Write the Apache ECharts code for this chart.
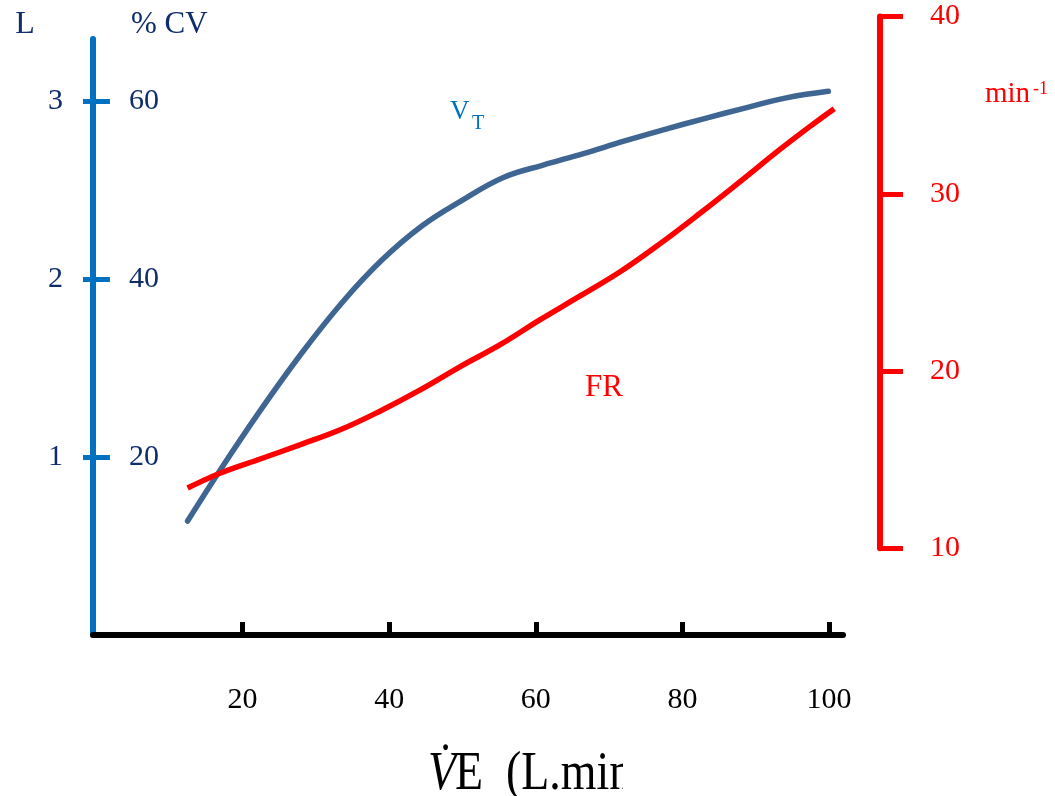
<!DOCTYPE html>
<html>
<head>
<meta charset="utf-8">
<script src="https://cdn.jsdelivr.net/npm/echarts@6/dist/echarts.min.js"></script>
<style>
  html, body { margin: 0; padding: 0; background: #ffffff; }
  #chart { width: 1055px; height: 796px; }
</style>
</head>
<body>
<div id="chart"></div>
<script>
// ---- data ----
const xTicks = [20, 40, 60, 80, 100];            // V̇E (L.min-1)
const litreTicks = [1, 2, 3];                     // L
const cvTicks = [20, 40, 60];                     // % CV
const rateTicks = [10, 20, 30, 40];               // min-1

// Tidal volume V_T (L) vs V̇E
const vtVE = [12.5, 17, 22.5, 28, 33.5, 39, 44.5, 50, 55.5, 61, 66.5, 72, 77.5, 83, 88.5, 94, 99.9];
const vtLitres = [0.64, 0.93, 1.266, 1.58, 1.864, 2.106, 2.299, 2.443, 2.569, 2.64, 2.704, 2.774, 2.839, 2.901, 2.96, 3.016, 3.054];

// Breathing frequency FR (min-1) vs V̇E
const frVE = [12.5, 17, 22.5, 27.9, 33.4, 38.8, 44.3, 49.7, 55.2, 60.6, 66.1, 71.5, 77, 82.4, 87.9, 93.3, 97.4, 100.7];
const frRate = [13.4, 14.25, 15.05, 15.85, 16.7, 17.75, 18.95, 20.25, 21.5, 22.9, 24.25, 25.6, 27.2, 28.9, 30.7, 32.5, 33.8, 34.8];

const vtData = vtVE.map((x, i) => [x, vtLitres[i]]);
const frData = frVE.map((x, i) => [x, frRate[i]]);

const SERIF = '"Liberation Serif", "Times New Roman", serif';
const NAVY = '#0f2d6b';
const BLUE = '#0070c0';
const RED = '#ff0000';

const chart = echarts.init(document.getElementById('chart'), null, { renderer: 'canvas' });

const xBase = { type: 'value', min: -0.4, max: 101.9, splitLine: { show: false } };

const option = {
  animation: false,
  backgroundColor: '#ffffff',
  grid: [
    { left: 93, top: 39, width: 750, height: 596 },
    { left: 93, top: 16.5, width: 750, height: 531.8 },
    { left: 93, top: 39, width: 750, height: 596 }
  ],
  xAxis: [
    Object.assign({}, xBase, {
      gridIndex: 0,
      axisLine: { show: true, onZero: false, lineStyle: { color: '#000000', width: 6 } },
      axisTick: { show: true, inside: true, length: 13, customValues: xTicks, lineStyle: { color: '#000000', width: 5 } },
      axisLabel: { customValues: xTicks, margin: 50, fontFamily: SERIF, fontSize: 30, color: '#000000' }
    }),
    Object.assign({}, xBase, { gridIndex: 1, show: false }),
    Object.assign({}, xBase, { gridIndex: 2, show: false })
  ],
  yAxis: [
    {
      gridIndex: 0, type: 'value', min: 0, max: 3.348, position: 'left',
      splitLine: { show: false },
      axisLine: { show: true, onZero: false, lineStyle: { color: BLUE, width: 6 } },
      axisTick: { show: true, length: 10, customValues: litreTicks, lineStyle: { color: BLUE, width: 5 } },
      axisLabel: { customValues: litreTicks, margin: 30, padding: [8, 0, 0, 0], fontFamily: SERIF, fontSize: 30, color: NAVY }
    },
    {
      gridIndex: 1, type: 'value', min: 10, max: 40, interval: 10, position: 'right', offset: 37,
      splitLine: { show: false },
      axisLine: { show: true, onZero: false, lineStyle: { color: RED, width: 6 } },
      axisTick: { show: true, length: 23, lineStyle: { color: RED, width: 5 } },
      axisLabel: { margin: 50, padding: [7, 0, 0, 0], fontFamily: SERIF, fontSize: 30, color: RED }
    },
    {
      gridIndex: 2, type: 'value', min: 0, max: 66.96, position: 'left',
      splitLine: { show: false },
      axisLine: { show: false },
      axisTick: { show: true, inside: true, length: 14, customValues: cvTicks, lineStyle: { color: BLUE, width: 5 } },
      axisLabel: { inside: true, customValues: cvTicks, margin: 36, padding: [8, 0, 0, 0], fontFamily: SERIF, fontSize: 30, color: NAVY }
    }
  ],
  series: [
    {
      name: 'VT', type: 'line', xAxisIndex: 0, yAxisIndex: 0,
      data: vtData, smooth: 0.4, showSymbol: false, symbol: 'none',
      lineStyle: { color: '#3f6592', width: 5.5, cap: 'round' }, z: 3
    },
    {
      name: 'FR', type: 'line', xAxisIndex: 1, yAxisIndex: 1,
      data: frData, smooth: 0.4, showSymbol: false, symbol: 'none',
      lineStyle: { color: RED, width: 5.5 }, z: 4
    }
  ],
  graphic: [
    { type: 'text', x: 25, y: 25, style: { text: 'L', font: '32px ' + SERIF, fill: NAVY, align: 'center', verticalAlign: 'middle' } },
    { type: 'text', x: 131, y: 25, style: { text: '% CV', font: '31px ' + SERIF, fill: NAVY, align: 'left', verticalAlign: 'middle' } },
    { type: 'text', x: 985, y: 94, style: { text: 'min', font: '29px ' + SERIF, fill: RED, align: 'left', verticalAlign: 'middle' } },
    { type: 'text', x: 1033, y: 89, style: { text: '-1', font: '18px ' + SERIF, fill: RED, align: 'left', verticalAlign: 'middle' } },
    { type: 'text', x: 450, y: 112, style: { text: 'V', font: '27px ' + SERIF, fill: BLUE, align: 'left', verticalAlign: 'middle' } },
    { type: 'text', x: 472, y: 124, style: { text: 'T', font: '20px ' + SERIF, fill: BLUE, align: 'left', verticalAlign: 'middle' } },
    { type: 'text', x: 585, y: 388, style: { text: 'FR', font: '31px ' + SERIF, fill: RED, align: 'left', verticalAlign: 'middle' } },
    { type: 'text', x: 428, y: 775, scaleX: 0.85, style: { text: 'V\u0307', font: 'italic 54px ' + SERIF, fill: '#000000', align: 'left', verticalAlign: 'middle' } },
    { type: 'text', x: 455, y: 775, scaleX: 0.85, style: { text: 'E  (L.min', font: '54px ' + SERIF, fill: '#000000', align: 'left', verticalAlign: 'middle' } },
    { type: 'rect', shape: { x: 623, y: 735, width: 120, height: 61 }, style: { fill: '#ffffff' }, z: 100 }
  ]
};

chart.setOption(option);
</script>
</body>
</html>
